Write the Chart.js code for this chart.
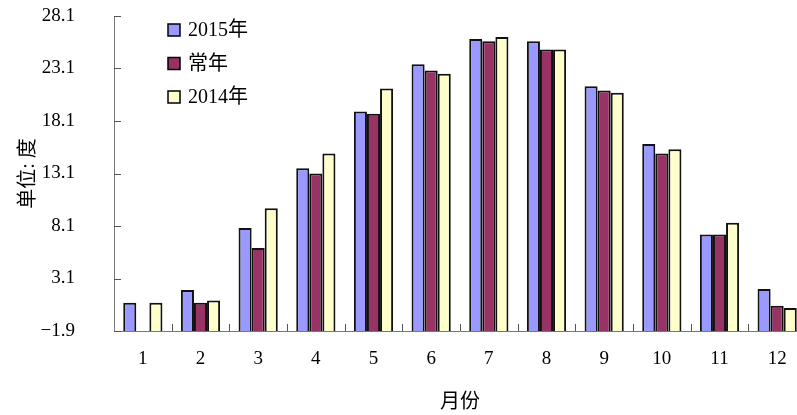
<!DOCTYPE html>
<html>
<head>
<meta charset="utf-8">
<script src="https://cdn.jsdelivr.net/npm/chart.js@4/dist/chart.umd.min.js"></script>
<style>
  html, body { margin: 0; padding: 0; background: #fff; overflow: hidden; }
  #wrap { width: 806px; height: 415px; }
</style>
</head>
<body>
<div id="wrap"><canvas id="tempChart" width="806" height="415"></canvas></div>
<script>
const months = ['1', '2', '3', '4', '5', '6', '7', '8', '9', '10', '11', '12'];
const temp2015 = [0.8, 2.0, 7.9, 13.6, 19.0, 23.5, 25.9, 25.7, 21.4, 15.9, 7.3, 2.1];
const tempNormal = [null, 0.8, 6.0, 13.1, 18.8, 22.9, 25.7, 24.9, 21.0, 15.0, 7.3, 0.5];
const temp2014 = [0.8, 1.0, 9.8, 15.0, 21.2, 22.6, 26.1, 24.9, 20.8, 15.4, 8.4, 0.3];
const yTicks = [-1.9, 3.1, 8.1, 13.1, 18.1, 23.1, 28.1];
const seriesNames = ['2015年', '常年', '2014年'];

const FONT = "'Liberation Serif', 'Noto Sans CJK SC', serif";
const colors = ['#9999FF', '#993366', '#FFFFCC'];

// short tick marks drawn on the inner side of both axes
const innerTicks = {
    id: 'innerTicks',
    afterDatasetsDraw(chart) {
        const { ctx, chartArea, scales } = chart;
        ctx.save();
        ctx.strokeStyle = '#555';
        ctx.lineWidth = 1;
        ctx.beginPath();
        yTicks.forEach(v => {
            const py = Math.round(scales.y.getPixelForValue(v)) + 0.5;
            ctx.moveTo(chartArea.left, py);
            ctx.lineTo(chartArea.left + 7, py);
        });
        for (let i = 1; i <= months.length; i++) {
            const px = Math.round((scales.x.getPixelForValue(i - 1) + scales.x.getPixelForValue(i)) / 2) + 0.5;
            ctx.moveTo(px, chartArea.bottom);
            ctx.lineTo(px, chartArea.bottom - 7);
        }
        ctx.stroke();
        ctx.restore();
    }
};

// legend inside the plot, top left
const boxLegend = {
    id: 'boxLegend',
    afterDraw(chart) {
        const { ctx } = chart;
        ctx.save();
        ctx.font = '20px ' + FONT;
        ctx.textBaseline = 'middle';
        chart.data.datasets.forEach((ds, i) => {
            const y = 30 + i * 33.5;
            ctx.fillStyle = ds.backgroundColor;
            ctx.fillRect(168, y - 6, 12, 12);
            ctx.strokeStyle = '#000';
            ctx.lineWidth = 1.5;
            ctx.strokeRect(168, y - 6, 12, 12);
            ctx.fillStyle = '#000';
            ctx.fillText(ds.label, 188, y + 1);
        });
        ctx.restore();
    }
};

const datasets = [temp2015, tempNormal, temp2014].map((vals, i) => ({
    label: seriesNames[i],
    data: vals,
    base: -1.9,
    backgroundColor: colors[i],
    borderColor: '#111',
    borderWidth: 2,
    categoryPercentage: 0.68,
    barPercentage: 1.0
}));

new Chart(document.getElementById('tempChart'), {
    type: 'bar',
    data: { labels: months, datasets: datasets },
    options: {
        responsive: false,
        animation: false,
        layout: { padding: { top: 16, left: 0, right: 0, bottom: 0 } },
        plugins: {
            legend: { display: false },
            tooltip: { enabled: false }
        },
        scales: {
            x: {
                grid: { display: false },
                border: { display: true, color: '#777', width: 1 },
                ticks: { color: '#000', font: { family: FONT, size: 19 }, padding: 9 },
                title: {
                    display: true, text: '月份', color: '#000',
                    font: { family: FONT, size: 20 }, padding: { top: 0, bottom: 0 }
                },
                afterFit(scale) { scale.height = 84; scale.paddingLeft = 0; scale.paddingRight = 0; }
            },
            y: {
                min: -1.9,
                max: 28.1,
                grid: { display: false },
                border: { display: true, color: '#777', width: 1 },
                afterBuildTicks(scale) { scale.ticks = yTicks.map(v => ({ value: v })); },
                ticks: {
                    color: '#000', font: { family: FONT, size: 19 }, padding: 31,
                    callback: v => v.toFixed(1).replace('-', '\u2212')
                },
                title: {
                    display: true, text: '单位: 度', color: '#000',
                    font: { family: FONT, size: 20 }, padding: { top: 17, bottom: 0 }
                },
                afterFit(scale) { scale.width = 114; scale.paddingTop = 0; scale.paddingBottom = 0; }
            }
        }
    },
    plugins: [innerTicks, boxLegend]
});
</script>
</body>
</html>
